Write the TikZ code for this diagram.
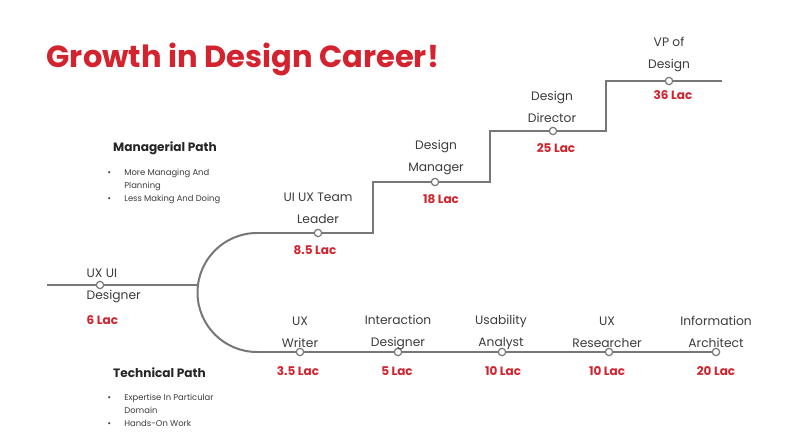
\documentclass[tikz,border=0pt]{standalone}
\usepackage{fontspec}
\setmainfont{Poppins}
\usetikzlibrary{positioning,calc}
\definecolor{careerred}{HTML}{D2232E}
\definecolor{pathgray}{HTML}{777777}
\definecolor{labelgray}{HTML}{3C3C3C}
\tikzset{
  stop/.style={circle,draw=pathgray,fill=white,line width=.9pt,inner sep=0pt,minimum size=5.5pt},
  role/.style={align=center,text=labelgray,font=\fontsize{9.2}{16.5}\selectfont},
  pay/.style={text=careerred,font=\bfseries\fontsize{9}{11}\selectfont},
  track/.style={draw=pathgray,line width=1.5pt},
  pathhead/.style={anchor=west,text=black!85,font=\bfseries\fontsize{9.1}{10}\selectfont},
  bullets/.style={anchor=west,align=left,text=labelgray,font=\fontsize{6.3}{9.8}\selectfont}
}
\newcommand{\bul}{\makebox[12.5pt][l]{\textbullet}}
\newcommand{\nobul}{\hspace*{12.5pt}}

\begin{document}
\begin{tikzpicture}[x=.75pt,y=.75pt,line cap=butt]
\useasboundingbox[fill=white] (0,0) rectangle (812,-448);
% title
\node[anchor=west,text=careerred,font=\bfseries\fontsize{22.9}{27}\selectfont] (title) at (42,-59) {Growth in Design Career!};
% side notes
\node[pathhead] (mhead) at (108.5,-148) {Managerial Path};
\node[bullets] (mlist) at (103,-186.5) {\bul More Managing And\\\nobul Planning\\\bul Less Making And Doing};
\node[pathhead] (thead) at (108.5,-373) {Technical Path};
\node[bullets] (tlist) at (103,-410.5) {\bul Expertise In Particular\\\nobul Domain\\\bul Hands-On Work};
% stops
\node[stop] (ds) at (100,-285) {};
\node[stop] (ld) at (318,-233) {};
\node[stop] (mg) at (435,-182) {};
\node[stop] (dr) at (553,-131) {};
\node[stop] (vp) at (669,-81) {};
\node[stop] (wr) at (300,-352) {};
\node[stop] (ix) at (398,-352) {};
\node[stop] (ua) at (502,-352) {};
\node[stop] (rs) at (609,-352) {};
\node[stop] (ia) at (716,-352) {};
% corners
\coordinate (start) at (47,-285);
\coordinate (fork) at (198,-285);
\coordinate (ltop) at (257,-233);
\coordinate (c1) at (373,-233);
\coordinate (c2) at (373,-182);
\coordinate (c3) at (490,-182);
\coordinate (c4) at (490,-131);
\coordinate (c5) at (606,-131);
\coordinate (c6) at (606,-81);
\coordinate (vpend) at (722,-81);
\coordinate (lbot) at (257,-352);
% track
\draw[track] (start) -- (ds) -- (fork);
\draw[track] (ltop) arc[start angle=90,end angle=270,radius=59.5];
\draw[track] (ltop) -- (ld) -- (c1) -- (c2) -- (mg) -- (c3) -- (c4) -- (dr) -- (c5) -- (c6) -- (vp) -- (vpend);
\draw[track] (lbot) -- (wr) -- (ix) -- (ua) -- (rs) -- (ia);
% labels
\node[role,anchor=west,align=left] (dsT) at (82,-286) {UX UI\\Designer};
\node[pay,anchor=west] (dsP) at (82,-320) {6 Lac};
\node[role] (ldT) at (318,-208) {UI UX Team\\Leader};
\node[pay] (ldP) at (315,-250) {8.5 Lac};
\node[role] (mgT) at (436,-157.5) {Design\\Manager};
\node[pay] (mgP) at (441,-199) {18 Lac};
\node[role] (drT) at (552,-106.5) {Design\\Director};
\node[pay] (drP) at (556,-148) {25 Lac};
\node[role] (vpT) at (669,-54) {VP of\\Design};
\node[pay] (vpP) at (673,-95) {36 Lac};
\node[role] (wrT) at (300,-332) {UX\\Writer};
\node[pay] (wrP) at (298,-371) {3.5 Lac};
\node[role] (ixT) at (398,-332) {Interaction\\Designer};
\node[pay] (ixP) at (397,-371) {5 Lac};
\node[role] (uaT) at (501,-332) {Usability\\Analyst};
\node[pay] (uaP) at (503,-371) {10 Lac};
\node[role] (rsT) at (607,-332) {UX\\Researcher};
\node[pay] (rsP) at (607,-371) {10 Lac};
\node[role] (iaT) at (716,-332) {Information\\Architect};
\node[pay] (iaP) at (716,-371) {20 Lac};
\end{tikzpicture}
\end{document}
